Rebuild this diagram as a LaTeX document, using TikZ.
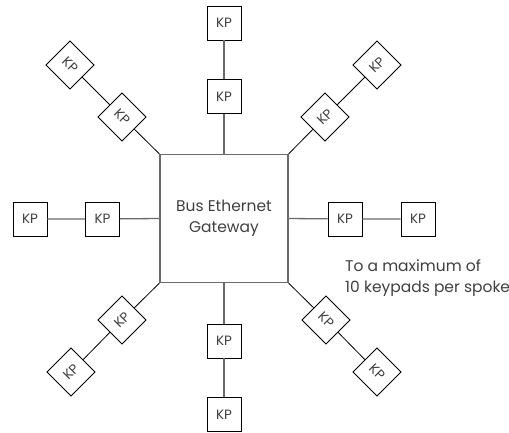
\documentclass[tikz,border=0pt]{standalone}
\usepackage{fontspec}
\setmainfont{Poppins}
\definecolor{txtgray}{HTML}{404040}
\definecolor{linegray}{HTML}{6A6A6A}
\begin{document}
\begin{tikzpicture}[x=1pt,y=-1pt,
  kp/.style={draw=black,line width=0.8pt,minimum size=34pt,inner sep=0pt,
    text=txtgray,font=\fontsize{13.5}{13.5}\selectfont},
  gw/.style={draw=linegray,line width=1.2pt,minimum size=128pt,inner sep=0pt,
    align=center,text=txtgray,font=\fontsize{15.5}{21.5}\selectfont},
  spoke/.style={draw=linegray,line width=1.3pt},
  diag/.style={draw=black,line width=0.8pt}]
\useasboundingbox (0,0) rectangle (509,432);
\node[gw] (gw) at (224,218.5){Bus Ethernet\\Gateway};
% straight spokes
\node[kp] (kpn1) at (224,96.5){KP};
\node[kp] (kpn2) at (224,23){KP};
\node[kp] (kps1) at (224,341){KP};
\node[kp] (kps2) at (224,414.5){KP};
\node[kp] (kpw1) at (102.5,219){KP};
\node[kp] (kpw2) at (30,219){KP};
\node[kp] (kpe1) at (345,219){KP};
\node[kp] (kpe2) at (418,219){KP};
% diagonal spokes
\node[kp,rotate=-45] (kpnw1) at (122,117){KP};
\node[kp,rotate=-45] (kpnw2) at (70,65){KP};
\node[kp,rotate=45] (kpne1) at (325,117){KP};
\node[kp,rotate=45] (kpne2) at (377,65){KP};
\node[kp,rotate=45] (kpsw1) at (122,320){KP};
\node[kp,rotate=45] (kpsw2) at (71,372){KP};
\node[kp,rotate=-45] (kpse1) at (326,320){KP};
\node[kp,rotate=-45] (kpse2) at (377,372){KP};
\foreach \s/\a in {n/north,s/south,e/east,w/west}
\draw[spoke] (gw.\a) -- (kp\s1) -- (kp\s2);
\foreach \s/\a in {nw/north west,ne/north east,sw/south west,se/south east}
\draw[diag] (gw.\a) -- (kp\s1) -- (kp\s2);
\node[anchor=west,align=left,inner sep=0pt,text=txtgray,font=\fontsize{15.5}{21}\selectfont] (note) at (345,278.5){To a maximum of\\10 keypads per spoke};
\end{tikzpicture}
\end{document}
